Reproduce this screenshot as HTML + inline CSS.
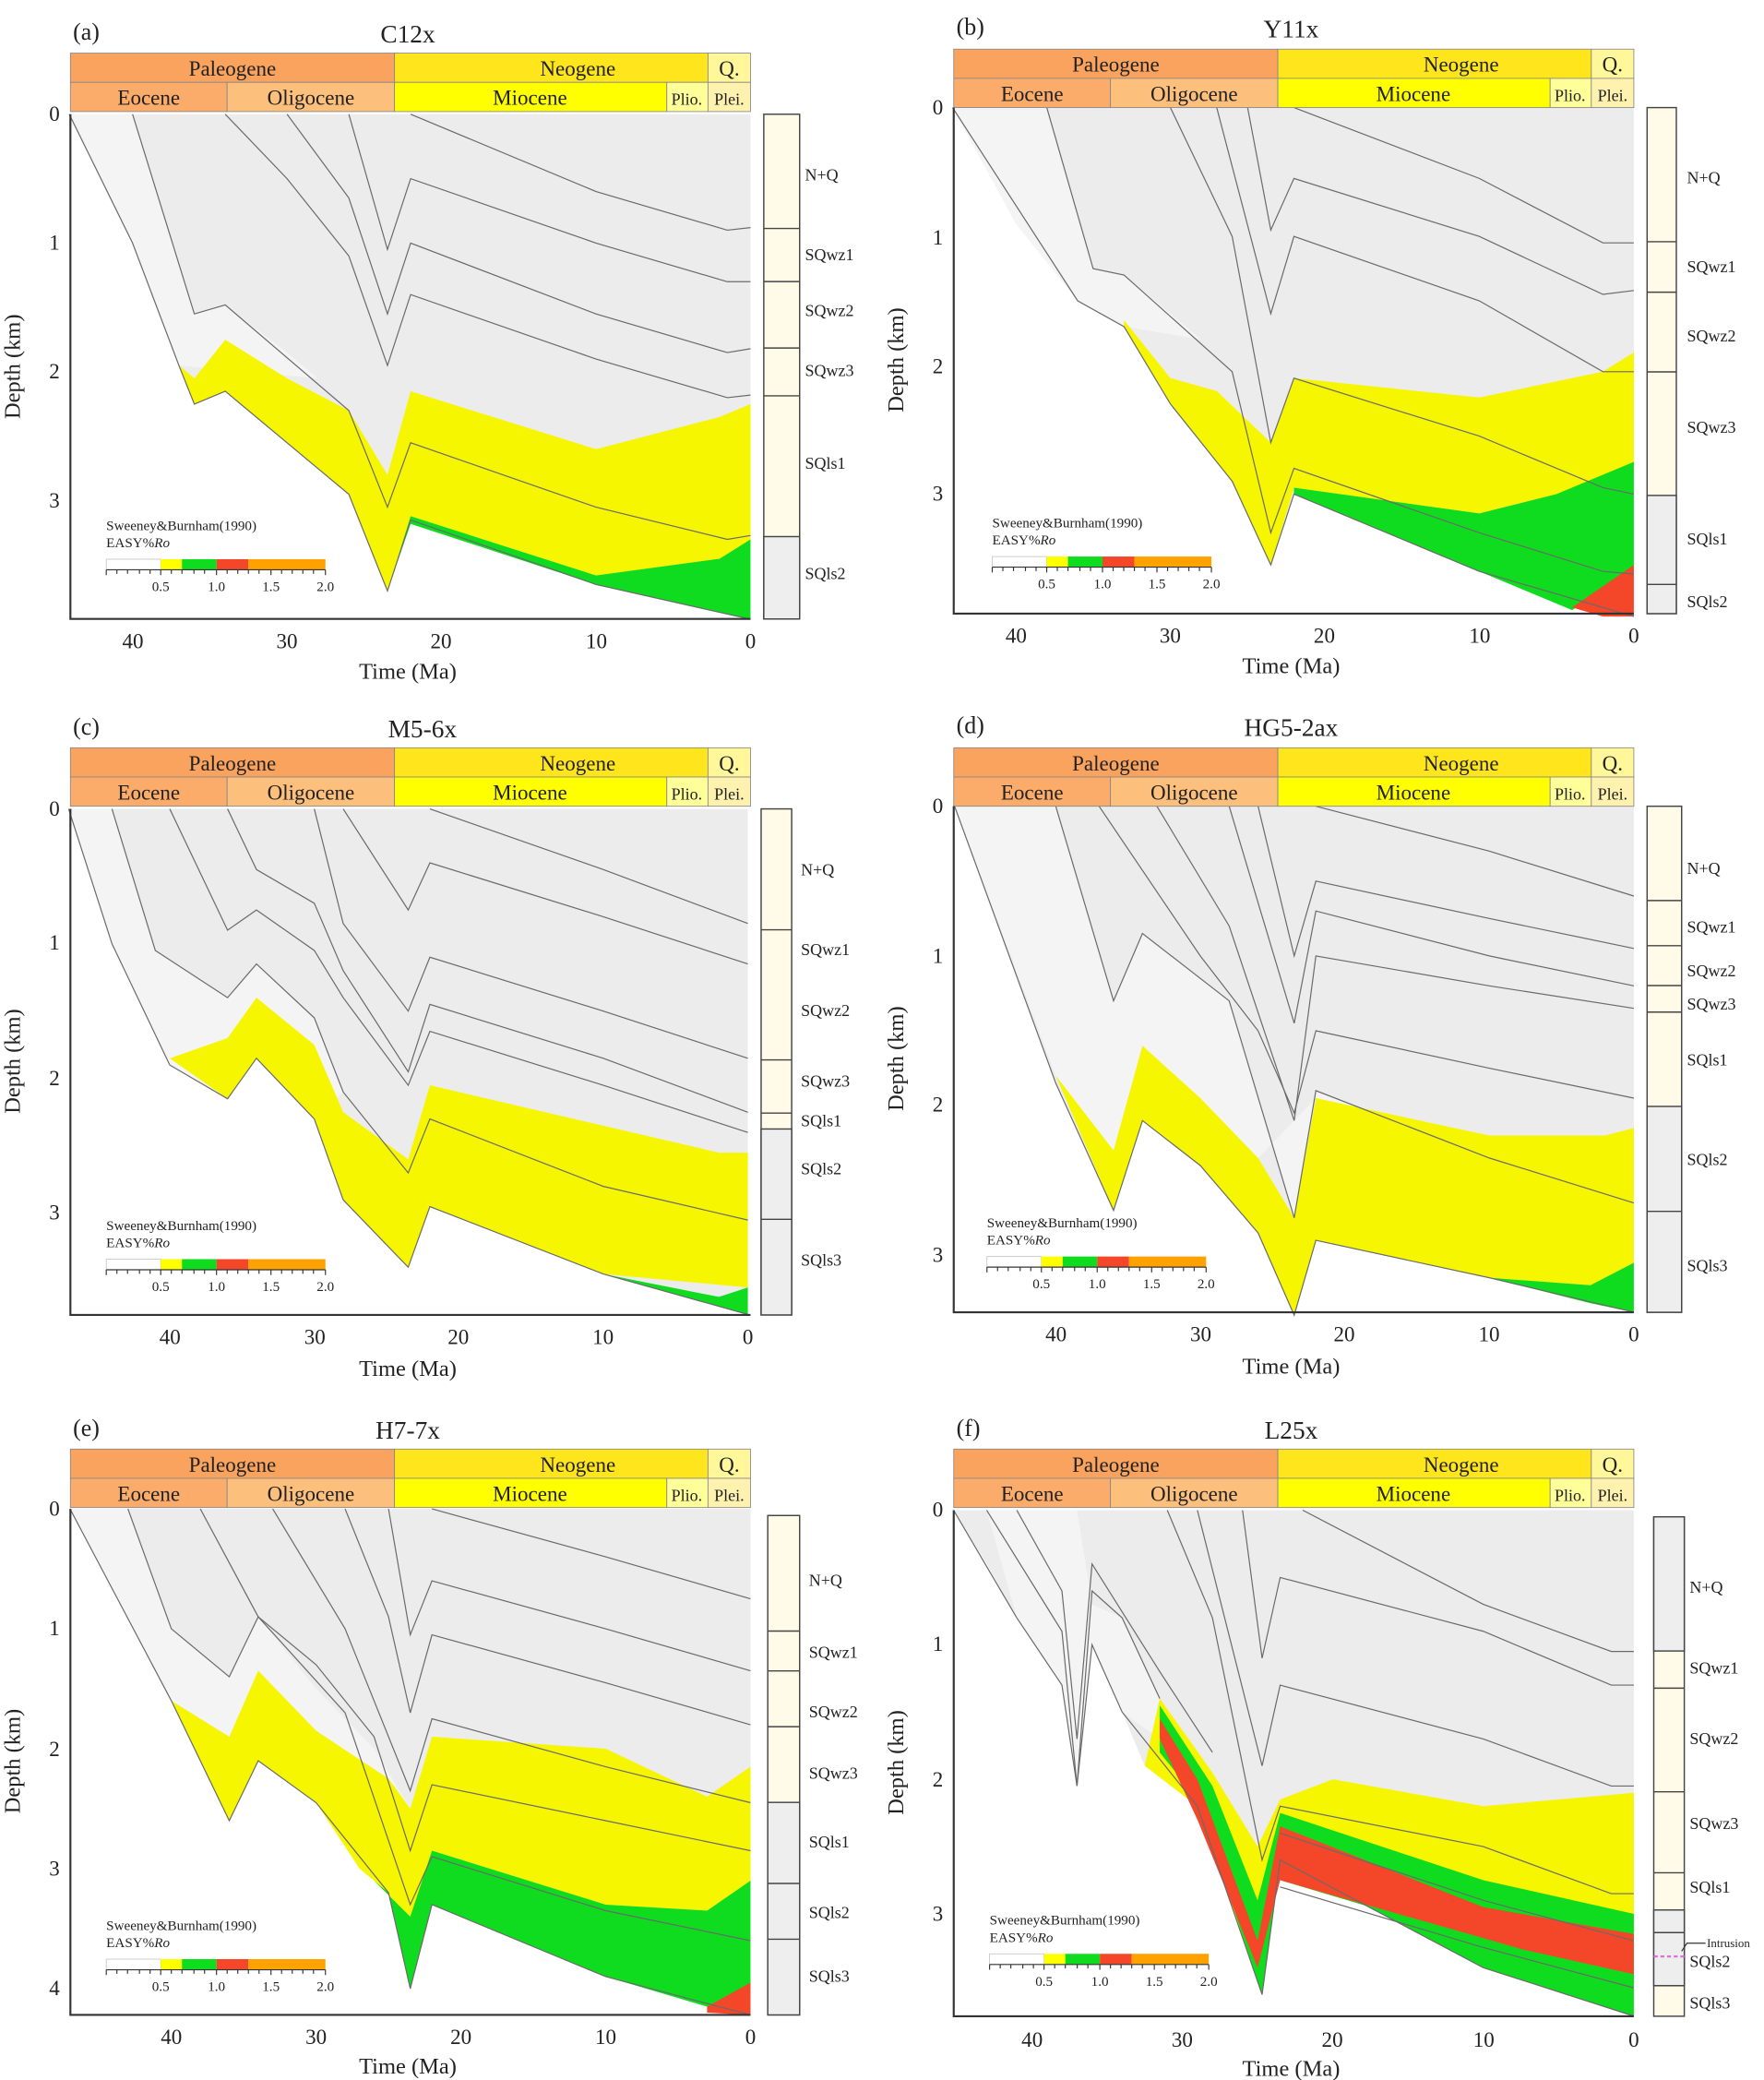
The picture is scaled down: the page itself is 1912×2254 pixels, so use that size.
<!DOCTYPE html>
<html><head><meta charset="utf-8"><style>
html,body{margin:0;padding:0;background:#fff;}
svg{display:block;}
text{font-family:"Liberation Serif",serif;fill:#222;}
.ln{fill:none;stroke:#6a6a6a;stroke-width:1.2;vector-effect:non-scaling-stroke;}
.g{fill:#ececec;}
.d{fill:#f4f4f4;}
.y{fill:#f6f600;}
.gr{fill:#0fdc1e;}
.r{fill:#f4472a;}
.hd{font-size:16px;text-anchor:middle;}
.tk{font-size:16px;text-anchor:middle;}
.cl{font-size:12.5px;}
.lg{font-size:10.5px;}
</style></head><body>
<svg width="1912" height="2254" viewBox="0 0 1328 1566" preserveAspectRatio="none" xmlns="http://www.w3.org/2000/svg">

<!-- ===== Panel (a) ===== -->
<g transform="translate(53,86)">
 <g transform="translate(512,0) scale(-11.63,97)">
  <polygon class="g" points="44.1,0 0,0 0,3.92 10,3.65 22,3.15 23.5,3.7 26,2.95 34,2.15 36,2.25 37,1.95 40,1.0"/>
  <polygon class="d" points="44.1,0 40,0 36,1.55 34,1.48 30,1.85 28,2.05 37,1.95 40,1.0"/>
  <polygon class="y" points="37,1.95 36,2.05 34,1.75 30,2.05 26,2.3 23.5,2.8 22,2.15 10,2.6 2,2.35 0,2.25 0,3.3 2,3.45 10,3.58 22,3.12 23.5,3.7 26,2.95 34,2.15 36,2.25"/>
  <polygon class="gr" points="22,3.12 10,3.58 2,3.45 0,3.3 0,3.92 10,3.65 22,3.18 23.5,3.7"/>
  <polyline class="ln" points="44.1,0 40,1.0 37,1.95 36,2.25 34,2.15 26,2.95 23.5,3.7 22,3.15 10,3.65 0,3.92"/>
  <polyline class="ln" points="40,0 36,1.55 34,1.48 26,2.3 23.5,3.05 22,2.55 10,3.05 1.5,3.3 0,3.27"/>
  <polyline class="ln" points="34,0 30,0.5 26,1.1 23.5,1.95 22,1.4 10,1.9 1.5,2.2 0,2.18"/>
  <polyline class="ln" points="30,0 26,0.65 23.5,1.55 22,1.0 10,1.55 1.5,1.85 0,1.82"/>
  <polyline class="ln" points="26,0 23.5,1.05 22,0.5 10,1.0 1.5,1.3 0,1.3"/>
  <polyline class="ln" points="22,0 10,0.6 1.5,0.9 0,0.88"/>
 </g>
 <rect x="0" y="-46" width="244" height="22" fill="#f9a35e" stroke="#888" stroke-width="0.6"/>
 <rect x="244" y="-46" width="236" height="22" fill="#ffe51c" stroke="#888" stroke-width="0.6"/>
 <rect x="480" y="-46" width="32" height="22" fill="#fff79a" stroke="#888" stroke-width="0.6"/>
 <rect x="0" y="-24" width="118" height="22" fill="#fbac6a" stroke="#888" stroke-width="0.6"/>
 <rect x="118" y="-24" width="126" height="22" fill="#fdbf7c" stroke="#888" stroke-width="0.6"/>
 <rect x="244" y="-24" width="205" height="22" fill="#ffff00" stroke="#888" stroke-width="0.6"/>
 <rect x="449" y="-24" width="31" height="22" fill="#ffff99" stroke="#888" stroke-width="0.6"/>
 <rect x="480" y="-24" width="32" height="22" fill="#fff2ae" stroke="#888" stroke-width="0.6"/>
 <text class="hd" x="122" y="-29">Paleogene</text><text class="hd" x="382" y="-29">Neogene</text><text class="hd" x="496" y="-29">Q.</text>
 <text class="hd" x="59" y="-7">Eocene</text><text class="hd" x="181" y="-7">Oligocene</text><text class="hd" x="346" y="-7">Miocene</text>
 <text x="464" y="-7" style="font-size:12.5px;text-anchor:middle">Plio.</text><text x="496" y="-7" style="font-size:12.5px;text-anchor:middle">Plei.</text>
 <path d="M0,0 V380 H512" fill="none" stroke="#333" stroke-width="1.5"/>
 <text class="tk" x="-12" y="5">0</text><text class="tk" x="-12" y="102">1</text><text class="tk" x="-12" y="199">2</text><text class="tk" x="-12" y="296">3</text>
 <text class="tk" x="47" y="402">40</text><text class="tk" x="163" y="402">30</text><text class="tk" x="279" y="402">20</text><text class="tk" x="396" y="402">10</text><text class="tk" x="512" y="402">0</text>
 <text x="254" y="425" style="font-size:17px;text-anchor:middle">Time (Ma)</text>
 <text x="-38" y="190" transform="rotate(-90 -38 190)" style="font-size:17px;text-anchor:middle">Depth (km)</text>
 <text x="2" y="-56" style="font-size:18px">(a)</text><text x="254" y="-54" style="font-size:19px;text-anchor:middle">C12x</text>
 <rect x="522" y="0" width="27" height="380" fill="#fffbe8" stroke="#444" stroke-width="1"/>
 <rect x="522" y="318" width="27" height="62" fill="#eeeeee" stroke="#444" stroke-width="1"/>
 <path d="M522,86 h27 M522,126 h27 M522,176 h27 M522,212 h27" stroke="#444" stroke-width="1"/>
 <text class="cl" x="553" y="50">N+Q</text><text class="cl" x="553" y="110">SQwz1</text><text class="cl" x="553" y="152">SQwz2</text><text class="cl" x="553" y="197">SQwz3</text><text class="cl" x="553" y="267">SQls1</text><text class="cl" x="553" y="350">SQls2</text>
</g>

<!-- ===== Panel (b) ===== -->
<g transform="translate(718,81)">
 <g transform="translate(512,0) scale(-11.63,97)">
  <polygon class="g" points="44.1,0 0,0 0,3.95 3,3.85 10,3.6 22,3.0 23.5,3.55 26,2.9 30,2.3 33,1.7 36,1.5 40,0.9"/>
  <polygon class="d" points="44.1,0 38,0 35,1.25 33,1.3 28,1.8 33,1.7 36,1.5 40,0.9"/>
  <polygon class="y" points="33,1.65 30,2.1 27,2.2 23.5,2.6 22,2.1 10,2.25 2,2.05 0,1.9 0,2.8 5,3.0 10,3.15 22,2.95 23.5,3.55 26,2.9 30,2.3 33,1.7"/>
  <polygon class="gr" points="22,2.95 10,3.15 5,3.0 0,2.75 0,3.6 4,3.9 10,3.6 22,3.0"/>
  <polygon class="r" points="0,3.55 4,3.88 2,3.95 0,3.95"/>
  <polyline class="ln" points="44.1,0 36,1.5 33,1.7 30,2.3 26,2.9 23.5,3.55 22,3.0 10,3.6 0,3.95"/>
  <polyline class="ln" points="38,0 35,1.25 33,1.3 26,2.05 23.5,3.3 22,2.8 10,3.3 2,3.6 0,3.62"/>
  <polyline class="ln" points="30,0 26,1.0 23.5,2.6 22,2.1 10,2.55 2,2.95 0,3.0"/>
  <polyline class="ln" points="27,0 23.5,1.6 22,1.0 10,1.5 2,2.05 0,2.05"/>
  <polyline class="ln" points="25,0 23.5,0.95 22,0.55 10,1.0 2,1.45 0,1.42"/>
  <polyline class="ln" points="22,0 10,0.55 2,1.05 0,1.05"/>
 </g>
 <rect x="0" y="-44" width="244" height="22" fill="#f9a35e" stroke="#888" stroke-width="0.6"/>
 <rect x="244" y="-44" width="236" height="22" fill="#ffe51c" stroke="#888" stroke-width="0.6"/>
 <rect x="480" y="-44" width="32" height="22" fill="#fff79a" stroke="#888" stroke-width="0.6"/>
 <rect x="0" y="-22" width="118" height="22" fill="#fbac6a" stroke="#888" stroke-width="0.6"/>
 <rect x="118" y="-22" width="126" height="22" fill="#fdbf7c" stroke="#888" stroke-width="0.6"/>
 <rect x="244" y="-22" width="205" height="22" fill="#ffff00" stroke="#888" stroke-width="0.6"/>
 <rect x="449" y="-22" width="31" height="22" fill="#ffff99" stroke="#888" stroke-width="0.6"/>
 <rect x="480" y="-22" width="32" height="22" fill="#fff2ae" stroke="#888" stroke-width="0.6"/>
 <text class="hd" x="122" y="-27">Paleogene</text><text class="hd" x="382" y="-27">Neogene</text><text class="hd" x="496" y="-27">Q.</text>
 <text class="hd" x="59" y="-5">Eocene</text><text class="hd" x="181" y="-5">Oligocene</text><text class="hd" x="346" y="-5">Miocene</text>
 <text x="464" y="-5" style="font-size:12.5px;text-anchor:middle">Plio.</text><text x="496" y="-5" style="font-size:12.5px;text-anchor:middle">Plei.</text>
 <path d="M0,0 V381 H512" fill="none" stroke="#333" stroke-width="1.5"/>
 <text class="tk" x="-12" y="5">0</text><text class="tk" x="-12" y="103">1</text><text class="tk" x="-12" y="200">2</text><text class="tk" x="-12" y="296">3</text>
 <text class="tk" x="47" y="403">40</text><text class="tk" x="163" y="403">30</text><text class="tk" x="279" y="403">20</text><text class="tk" x="396" y="403">10</text><text class="tk" x="512" y="403">0</text>
 <text x="254" y="426" style="font-size:17px;text-anchor:middle">Time (Ma)</text>
 <text x="-38" y="190" transform="rotate(-90 -38 190)" style="font-size:17px;text-anchor:middle">Depth (km)</text>
 <text x="2" y="-55" style="font-size:18px">(b)</text><text x="254" y="-53" style="font-size:19px;text-anchor:middle">Y11x</text>
 <rect x="522" y="0" width="22" height="381" fill="#fffbe8" stroke="#444" stroke-width="1"/>
 <rect x="522" y="292" width="22" height="89" fill="#eeeeee" stroke="#444" stroke-width="1"/>
 <path d="M522,101 h22 M522,139 h22 M522,199 h22 M522,359 h22" stroke="#444" stroke-width="1"/>
 <text class="cl" x="552" y="57">N+Q</text><text class="cl" x="552" y="124">SQwz1</text><text class="cl" x="552" y="176">SQwz2</text><text class="cl" x="552" y="245">SQwz3</text><text class="cl" x="552" y="329">SQls1</text><text class="cl" x="552" y="376">SQls2</text>
</g>

<!-- ===== Panel (c) ===== -->
<g transform="translate(53,609)">
 <g transform="translate(510,0) scale(-10.88,101.5)">
  <polygon class="g" points="47,0 0,0 0,3.75 10,3.45 22,2.95 23.5,3.4 28,2.9 30,2.3 34,1.85 36,2.15 40,1.9 44,1.0"/>
  <polygon class="d" points="47,0 44,0 41,1.05 36,1.4 34,1.15 30,1.55 28,2.1 30,2.3 34,1.85 36,2.15 40,1.9 44,1.0"/>
  <polygon class="y" points="40,1.85 36,1.7 34,1.4 30,1.75 28,2.25 23.5,2.6 22,2.05 10,2.35 2,2.55 0,2.55 0,3.55 10,3.45 22,2.95 23.5,3.4 28,2.9 30,2.3 34,1.85 36,2.15"/>
  <polygon class="gr" points="10,3.45 2,3.62 0,3.55 0,3.75"/>
  <polyline class="ln" points="47,0 44,1.0 40,1.9 36,2.15 34,1.85 30,2.3 28,2.9 23.5,3.4 22,2.95 10,3.45 0,3.75"/>
  <polyline class="ln" points="44,0 41,1.05 36,1.4 34,1.15 30,1.55 28,2.1 23.5,2.7 22,2.3 10,2.8 0,3.05"/>
  <polyline class="ln" points="40,0 36,0.9 34,0.75 30,1.05 28,1.4 23.5,2.05 22,1.65 10,2.05 0,2.4"/>
  <polyline class="ln" points="36,0 34,0.45 30,0.7 28,1.2 23.5,1.95 22,1.45 10,1.85 0,2.25"/>
  <polyline class="ln" points="30,0 28,0.85 23.5,1.5 22,1.1 10,1.5 0,1.85"/>
  <polyline class="ln" points="28,0 23.5,0.75 22,0.4 10,0.8 0,1.15"/>
  <polyline class="ln" points="22,0 10,0.45 0,0.85"/>
 </g>
 <rect x="0" y="-46" width="244" height="22" fill="#f9a35e" stroke="#888" stroke-width="0.6"/>
 <rect x="244" y="-46" width="236" height="22" fill="#ffe51c" stroke="#888" stroke-width="0.6"/>
 <rect x="480" y="-46" width="32" height="22" fill="#fff79a" stroke="#888" stroke-width="0.6"/>
 <rect x="0" y="-24" width="118" height="22" fill="#fbac6a" stroke="#888" stroke-width="0.6"/>
 <rect x="118" y="-24" width="126" height="22" fill="#fdbf7c" stroke="#888" stroke-width="0.6"/>
 <rect x="244" y="-24" width="205" height="22" fill="#ffff00" stroke="#888" stroke-width="0.6"/>
 <rect x="449" y="-24" width="31" height="22" fill="#ffff99" stroke="#888" stroke-width="0.6"/>
 <rect x="480" y="-24" width="32" height="22" fill="#fff2ae" stroke="#888" stroke-width="0.6"/>
 <text class="hd" x="122" y="-29">Paleogene</text><text class="hd" x="382" y="-29">Neogene</text><text class="hd" x="496" y="-29">Q.</text>
 <text class="hd" x="59" y="-7">Eocene</text><text class="hd" x="181" y="-7">Oligocene</text><text class="hd" x="346" y="-7">Miocene</text>
 <text x="464" y="-7" style="font-size:12.5px;text-anchor:middle">Plio.</text><text x="496" y="-7" style="font-size:12.5px;text-anchor:middle">Plei.</text>
 <path d="M0,0 V381 H512" fill="none" stroke="#333" stroke-width="1.5"/>
 <text class="tk" x="-12" y="5">0</text><text class="tk" x="-12" y="106">1</text><text class="tk" x="-12" y="208">2</text><text class="tk" x="-12" y="309">3</text>
 <text class="tk" x="75" y="403">40</text><text class="tk" x="184" y="403">30</text><text class="tk" x="292" y="403">20</text><text class="tk" x="401" y="403">10</text><text class="tk" x="510" y="403">0</text>
 <text x="254" y="427" style="font-size:17px;text-anchor:middle">Time (Ma)</text>
 <text x="-38" y="190" transform="rotate(-90 -38 190)" style="font-size:17px;text-anchor:middle">Depth (km)</text>
 <text x="2" y="-56" style="font-size:18px">(c)</text><text x="265" y="-54" style="font-size:19px;text-anchor:middle">M5-6x</text>
 <rect x="520" y="0" width="23" height="381" fill="#fffbe8" stroke="#444" stroke-width="1"/>
 <rect x="520" y="241" width="23" height="140" fill="#eeeeee" stroke="#444" stroke-width="1"/>
 <path d="M520,91 h23 M520,189 h23 M520,229 h23 M520,309 h23" stroke="#444" stroke-width="1"/>
 <text class="cl" x="550" y="50">N+Q</text><text class="cl" x="550" y="110">SQwz1</text><text class="cl" x="550" y="156">SQwz2</text><text class="cl" x="550" y="209">SQwz3</text><text class="cl" x="550" y="239">SQls1</text><text class="cl" x="550" y="275">SQls2</text><text class="cl" x="550" y="344">SQls3</text>
</g>

<!-- ===== Panel (d) ===== -->
<g transform="translate(718,607)">
 <g transform="translate(512,0) scale(-10.88,112.7)">
  <polygon class="g" points="47,0 0,0 0,3.38 10,3.15 22,2.9 23.5,3.4 26,2.85 30,2.4 34,2.1 36,2.7 40,1.85"/>
  <polygon class="d" points="47,0 40,0 36,1.3 34,0.85 28,1.3 23.5,2.75 22,1.9 10,2.35 0,2.65 0,2.2 10,2.2 22,1.95 26,2.35 30,1.95 34,1.6 36,2.3 40,1.8"/>
  <polygon class="y" points="40,1.8 36,2.3 34,1.6 30,1.95 26,2.35 23.5,2.75 22,1.95 10,2.2 2,2.2 0,2.15 0,3.05 3,3.2 10,3.15 22,2.9 23.5,3.4 26,2.85 30,2.4 34,2.1 36,2.7"/>
  <polygon class="gr" points="3,3.2 0,3.05 0,3.38 3,3.32 10,3.15"/>
  <polyline class="ln" points="47,0 40,1.85 36,2.7 34,2.1 30,2.4 26,2.85 23.5,3.4 22,2.9 10,3.15 0,3.38"/>
  <polyline class="ln" points="40,0 36,1.3 34,0.85 28,1.3 23.5,2.75 22,1.9 10,2.35 0,2.65"/>
  <polyline class="ln" points="37,0 30,1.0 26,1.5 23.5,2.05 22,1.5 10,1.75 0,1.95"/>
  <polyline class="ln" points="33,0 28,0.8 23.5,2.1 22,1.0 10,1.2 0,1.35"/>
  <polyline class="ln" points="28,0 23.5,1.45 22,0.7 10,1.0 0,1.2"/>
  <polyline class="ln" points="26,0 23.5,1.0 22,0.5 10,0.75 0,0.95"/>
  <polyline class="ln" points="22,0 10,0.3 0,0.6"/>
 </g>
 <rect x="0" y="-44" width="244" height="22" fill="#f9a35e" stroke="#888" stroke-width="0.6"/>
 <rect x="244" y="-44" width="236" height="22" fill="#ffe51c" stroke="#888" stroke-width="0.6"/>
 <rect x="480" y="-44" width="32" height="22" fill="#fff79a" stroke="#888" stroke-width="0.6"/>
 <rect x="0" y="-22" width="118" height="22" fill="#fbac6a" stroke="#888" stroke-width="0.6"/>
 <rect x="118" y="-22" width="126" height="22" fill="#fdbf7c" stroke="#888" stroke-width="0.6"/>
 <rect x="244" y="-22" width="205" height="22" fill="#ffff00" stroke="#888" stroke-width="0.6"/>
 <rect x="449" y="-22" width="31" height="22" fill="#ffff99" stroke="#888" stroke-width="0.6"/>
 <rect x="480" y="-22" width="32" height="22" fill="#fff2ae" stroke="#888" stroke-width="0.6"/>
 <text class="hd" x="122" y="-27">Paleogene</text><text class="hd" x="382" y="-27">Neogene</text><text class="hd" x="496" y="-27">Q.</text>
 <text class="hd" x="59" y="-5">Eocene</text><text class="hd" x="181" y="-5">Oligocene</text><text class="hd" x="346" y="-5">Miocene</text>
 <text x="464" y="-5" style="font-size:12.5px;text-anchor:middle">Plio.</text><text x="496" y="-5" style="font-size:12.5px;text-anchor:middle">Plei.</text>
 <path d="M0,0 V381 H512" fill="none" stroke="#333" stroke-width="1.5"/>
 <text class="tk" x="-12" y="5">0</text><text class="tk" x="-12" y="118">1</text><text class="tk" x="-12" y="230">2</text><text class="tk" x="-12" y="343">3</text>
 <text class="tk" x="77" y="403">40</text><text class="tk" x="186" y="403">30</text><text class="tk" x="294" y="403">20</text><text class="tk" x="403" y="403">10</text><text class="tk" x="512" y="403">0</text>
 <text x="254" y="427" style="font-size:17px;text-anchor:middle">Time (Ma)</text>
 <text x="-38" y="190" transform="rotate(-90 -38 190)" style="font-size:17px;text-anchor:middle">Depth (km)</text>
 <text x="2" y="-55" style="font-size:18px">(d)</text><text x="254" y="-53" style="font-size:19px;text-anchor:middle">HG5-2ax</text>
 <rect x="522" y="0" width="26" height="381" fill="#fffbe8" stroke="#444" stroke-width="1"/>
 <rect x="522" y="226" width="26" height="155" fill="#eeeeee" stroke="#444" stroke-width="1"/>
 <path d="M522,71 h26 M522,105 h26 M522,135 h26 M522,155 h26 M522,305 h26" stroke="#444" stroke-width="1"/>
 <text class="cl" x="552" y="51">N+Q</text><text class="cl" x="552" y="95">SQwz1</text><text class="cl" x="552" y="128">SQwz2</text><text class="cl" x="552" y="153">SQwz3</text><text class="cl" x="552" y="195">SQls1</text><text class="cl" x="552" y="270">SQls2</text><text class="cl" x="552" y="350">SQls3</text>
</g>

<!-- ===== Panel (e) ===== -->
<g transform="translate(53,1136)">
 <g transform="translate(512,0) scale(-10.9,90.3)">
  <polygon class="g" points="47,0 0,0 0,4.22 10,3.9 22,3.3 23.5,4.0 25,3.2 30,2.45 34,2.1 36,2.6 40,1.6"/>
  <polygon class="d" points="47,0 43,0 40,1.0 36,1.4 34,0.9 30,1.5 26,2.0 23.5,2.5 25,2.25 30,1.85 34,1.35 36,1.9 40,1.6"/>
  <polygon class="y" points="40,1.6 36,1.9 34,1.35 30,1.85 25,2.25 23.5,2.5 22,1.9 10,2.0 3,2.4 0,2.15 0,3.1 3,3.35 10,3.3 22,2.85 23.5,3.4 26,3.1 27,3.0 30,2.45 34,2.1 36,2.6"/>
  <polygon class="gr" points="27,3.0 26,3.1 23.5,3.4 22,2.85 10,3.3 3,3.35 0,3.1 0,4.0 3,4.15 10,3.9 22,3.3 23.5,4.0 25,3.2"/>
  <polygon class="r" points="3,4.15 0,3.95 0,4.22 3,4.2"/>
  <polyline class="ln" points="47,0 40,1.6 36,2.6 34,2.1 30,2.45 25,3.2 23.5,4.0 22,3.3 10,3.9 0,4.22"/>
  <polyline class="ln" points="43,0 40,1.0 36,1.4 34,0.9 28,1.7 23.5,3.3 22,2.9 10,3.35 0,3.6"/>
  <polyline class="ln" points="38,0 34,0.9 30,1.3 26,1.9 23.5,2.85 22,2.3 10,2.6 0,2.85"/>
  <polyline class="ln" points="33,0 28,1.0 23.5,2.35 22,1.75 10,2.15 0,2.45"/>
  <polyline class="ln" points="28,0 25,0.9 23.5,1.7 22,1.05 10,1.45 0,1.8"/>
  <polyline class="ln" points="25,0 23.5,1.05 22,0.6 10,1.0 0,1.35"/>
  <polyline class="ln" points="22,0 10,0.4 0,0.75"/>
 </g>
 <rect x="0" y="-45" width="244" height="22" fill="#f9a35e" stroke="#888" stroke-width="0.6"/>
 <rect x="244" y="-45" width="236" height="22" fill="#ffe51c" stroke="#888" stroke-width="0.6"/>
 <rect x="480" y="-45" width="32" height="22" fill="#fff79a" stroke="#888" stroke-width="0.6"/>
 <rect x="0" y="-23" width="118" height="22" fill="#fbac6a" stroke="#888" stroke-width="0.6"/>
 <rect x="118" y="-23" width="126" height="22" fill="#fdbf7c" stroke="#888" stroke-width="0.6"/>
 <rect x="244" y="-23" width="205" height="22" fill="#ffff00" stroke="#888" stroke-width="0.6"/>
 <rect x="449" y="-23" width="31" height="22" fill="#ffff99" stroke="#888" stroke-width="0.6"/>
 <rect x="480" y="-23" width="32" height="22" fill="#fff2ae" stroke="#888" stroke-width="0.6"/>
 <text class="hd" x="122" y="-28">Paleogene</text><text class="hd" x="382" y="-28">Neogene</text><text class="hd" x="496" y="-28">Q.</text>
 <text class="hd" x="59" y="-6">Eocene</text><text class="hd" x="181" y="-6">Oligocene</text><text class="hd" x="346" y="-6">Miocene</text>
 <text x="464" y="-6" style="font-size:12.5px;text-anchor:middle">Plio.</text><text x="496" y="-6" style="font-size:12.5px;text-anchor:middle">Plei.</text>
 <path d="M0,0 V381 H512" fill="none" stroke="#333" stroke-width="1.5"/>
 <text class="tk" x="-12" y="5">0</text><text class="tk" x="-12" y="95">1</text><text class="tk" x="-12" y="186">2</text><text class="tk" x="-12" y="276">3</text><text class="tk" x="-12" y="366">4</text>
 <text class="tk" x="76" y="403">40</text><text class="tk" x="185" y="403">30</text><text class="tk" x="294" y="403">20</text><text class="tk" x="403" y="403">10</text><text class="tk" x="512" y="403">0</text>
 <text x="254" y="425" style="font-size:17px;text-anchor:middle">Time (Ma)</text>
 <text x="-38" y="190" transform="rotate(-90 -38 190)" style="font-size:17px;text-anchor:middle">Depth (km)</text>
 <text x="2" y="-55" style="font-size:18px">(e)</text><text x="254" y="-53" style="font-size:19px;text-anchor:middle">H7-7x</text>
 <rect x="525" y="5" width="24" height="376" fill="#fffbe8" stroke="#444" stroke-width="1"/>
 <rect x="525" y="221" width="24" height="160" fill="#eeeeee" stroke="#444" stroke-width="1"/>
 <path d="M525,92 h24 M525,122 h24 M525,164 h24 M525,282 h24 M525,324 h24" stroke="#444" stroke-width="1"/>
 <text class="cl" x="556" y="58">N+Q</text><text class="cl" x="556" y="112">SQwz1</text><text class="cl" x="556" y="157">SQwz2</text><text class="cl" x="556" y="203">SQwz3</text><text class="cl" x="556" y="255">SQls1</text><text class="cl" x="556" y="308">SQls2</text><text class="cl" x="556" y="356">SQls3</text>
</g>

<!-- ===== Panel (f) ===== -->
<g transform="translate(718,1137)">
 <g transform="translate(512,0) scale(-11.33,101.3)">
  <polygon class="g" points="45.2,0 0,0 0,3.76 10,3.4 23.5,2.6 24.7,3.6 29,2.2 32.5,1.9 34,1.5 36,1.0 37,2.05 38,1.3 41,0.8 43,0.4"/>
  <polygon class="d" points="43,0 37,0 36,0.7 34,0.8 31.5,1.4 29,1.9 34,1.5 36,1.0 37,2.05 38,1.3 41,0.8"/>
  <polygon class="y" points="31.5,1.4 28,1.95 25,2.5 23.5,2.15 20,2.0 10,2.2 0,2.1 0,3.76 10,3.4 23.5,2.6 24.7,3.6 29,2.2 32.5,1.9"/>
  <polygon class="gr" points="31.5,1.45 28,2.05 25,2.9 23.5,2.25 10,2.75 0,3.0 0,3.76 10,3.4 23.5,2.6 24.7,3.6 29,2.15 31.5,1.8"/>
  <polygon class="r" points="31.5,1.55 29,2.0 25,3.2 23.5,2.35 10,2.95 0,3.15 0,3.45 10,3.2 23.5,2.75 25,3.4 29,2.3 31.5,1.7"/>
  <polygon class="gr" points="0,3.45 10,3.2 23.5,2.75 0,3.5"/>
  <polyline class="ln" points="45.2,0 41,0.8 38,1.3 37,2.05 36,1.0 34,1.5 29,2.2 24.7,3.6 23.5,2.6 10,3.4 0,3.76"/>
  <polyline class="ln" points="43,0 38,0.9 37,2.05 36,0.6 34,0.8 31.5,1.4"/>
  <polyline class="ln" points="41,0 38,0.6 37,1.7 36,0.4 31.5,1.2 28,1.8"/>
  <polyline class="ln" points="31,0 28,0.8 24.7,2.6 23.5,2.2 10,2.5 1.5,2.85 0,2.85"/>
  <polyline class="ln" points="29,0 24.7,1.9 23.5,1.3 10,1.7 1.5,2.05 0,2.05"/>
  <polyline class="ln" points="26,0 24.7,1.1 23.5,0.5 10,0.9 1.5,1.3 0,1.3"/>
  <polyline class="ln" points="22,0 10,0.7 1.5,1.05 0,1.05"/>
  <polyline class="ln" points="23.5,2.4 10,2.9 0,3.2"/>
  <polyline class="ln" points="23.5,2.8 10,3.25 0,3.55"/>
 </g>
 <rect x="0" y="-46" width="244" height="22" fill="#f9a35e" stroke="#888" stroke-width="0.6"/>
 <rect x="244" y="-46" width="236" height="22" fill="#ffe51c" stroke="#888" stroke-width="0.6"/>
 <rect x="480" y="-46" width="32" height="22" fill="#fff79a" stroke="#888" stroke-width="0.6"/>
 <rect x="0" y="-24" width="118" height="22" fill="#fbac6a" stroke="#888" stroke-width="0.6"/>
 <rect x="118" y="-24" width="126" height="22" fill="#fdbf7c" stroke="#888" stroke-width="0.6"/>
 <rect x="244" y="-24" width="205" height="22" fill="#ffff00" stroke="#888" stroke-width="0.6"/>
 <rect x="449" y="-24" width="31" height="22" fill="#ffff99" stroke="#888" stroke-width="0.6"/>
 <rect x="480" y="-24" width="32" height="22" fill="#fff2ae" stroke="#888" stroke-width="0.6"/>
 <text class="hd" x="122" y="-29">Paleogene</text><text class="hd" x="382" y="-29">Neogene</text><text class="hd" x="496" y="-29">Q.</text>
 <text class="hd" x="59" y="-7">Eocene</text><text class="hd" x="181" y="-7">Oligocene</text><text class="hd" x="346" y="-7">Miocene</text>
 <text x="464" y="-7" style="font-size:12.5px;text-anchor:middle">Plio.</text><text x="496" y="-7" style="font-size:12.5px;text-anchor:middle">Plei.</text>
 <path d="M0,0 V381 H512" fill="none" stroke="#333" stroke-width="1.5"/>
 <text class="tk" x="-12" y="5">0</text><text class="tk" x="-12" y="106">1</text><text class="tk" x="-12" y="208">2</text><text class="tk" x="-12" y="309">3</text>
 <text class="tk" x="59" y="404">40</text><text class="tk" x="172" y="404">30</text><text class="tk" x="285" y="404">20</text><text class="tk" x="399" y="404">10</text><text class="tk" x="512" y="404">0</text>
 <text x="254" y="426" style="font-size:17px;text-anchor:middle">Time (Ma)</text>
 <text x="-38" y="190" transform="rotate(-90 -38 190)" style="font-size:17px;text-anchor:middle">Depth (km)</text>
 <text x="2" y="-56" style="font-size:18px">(f)</text><text x="254" y="-54" style="font-size:19px;text-anchor:middle">L25x</text>
 <rect x="527" y="5" width="23" height="376" fill="#fffbe8" stroke="#444" stroke-width="1"/>
 <rect x="527" y="5" width="23" height="101" fill="#eeeeee" stroke="#444" stroke-width="1"/>
 <rect x="527" y="301" width="23" height="57" fill="#eeeeee" stroke="#444" stroke-width="1"/>
 <path d="M527,134 h23 M527,212 h23 M527,273 h23 M527,318 h23 M527,358 h23" stroke="#444" stroke-width="1"/>
 <path d="M527,336 h23" stroke="#e070e0" stroke-width="1.5" stroke-dasharray="3,2"/>
 <path d="M548,332 l4,-6 h14" fill="none" stroke="#333" stroke-width="0.8"/>
 <text x="567" y="329" style="font-size:9px">Intrusion</text>
 <text class="cl" x="554" y="62">N+Q</text><text class="cl" x="554" y="123">SQwz1</text><text class="cl" x="554" y="176">SQwz2</text><text class="cl" x="554" y="240">SQwz3</text><text class="cl" x="554" y="288">SQls1</text><text class="cl" x="554" y="344">SQls2</text><text class="cl" x="554" y="375">SQls3</text>
</g>

<!-- ===== Legends ===== -->
<g transform="translate(80,392)">
 <text class="lg" x="0" y="7">Sweeney&amp;Burnham(1990)</text><text class="lg" x="0" y="20">EASY%<tspan font-style="italic">Ro</tspan></text>
 <rect x="0" y="29" width="41" height="8" fill="#fff" stroke="#bbb" stroke-width="0.5"/><rect x="41" y="29" width="16" height="8" fill="#ffff00"/><rect x="57" y="29" width="26" height="8" fill="#0fdc1e"/><rect x="83" y="29" width="24" height="8" fill="#f4472a"/><rect x="107" y="29" width="58" height="8" fill="#ffa200"/>
 <path d="M0,37 h165 M0,37v4M8,37v3M16,37v3M25,37v3M33,37v3M41,37v4M49,37v3M57,37v3M66,37v3M74,37v3M83,37v4M91,37v3M99,37v3M107,37v3M115,37v3M124,37v4M132,37v3M140,37v3M148,37v3M156,37v3M165,37v4" stroke="#333" stroke-width="0.8" fill="none"/>
 <text class="lg" x="41" y="53" text-anchor="middle">0.5</text><text class="lg" x="83" y="53" text-anchor="middle">1.0</text><text class="lg" x="124" y="53" text-anchor="middle">1.5</text><text class="lg" x="165" y="53" text-anchor="middle">2.0</text>
</g>
<g transform="translate(747,390)">
 <text class="lg" x="0" y="7">Sweeney&amp;Burnham(1990)</text><text class="lg" x="0" y="20">EASY%<tspan font-style="italic">Ro</tspan></text>
 <rect x="0" y="29" width="41" height="8" fill="#fff" stroke="#bbb" stroke-width="0.5"/><rect x="41" y="29" width="16" height="8" fill="#ffff00"/><rect x="57" y="29" width="26" height="8" fill="#0fdc1e"/><rect x="83" y="29" width="24" height="8" fill="#f4472a"/><rect x="107" y="29" width="58" height="8" fill="#ffa200"/>
 <path d="M0,37 h165 M0,37v4M8,37v3M16,37v3M25,37v3M33,37v3M41,37v4M49,37v3M57,37v3M66,37v3M74,37v3M83,37v4M91,37v3M99,37v3M107,37v3M115,37v3M124,37v4M132,37v3M140,37v3M148,37v3M156,37v3M165,37v4" stroke="#333" stroke-width="0.8" fill="none"/>
 <text class="lg" x="41" y="53" text-anchor="middle">0.5</text><text class="lg" x="83" y="53" text-anchor="middle">1.0</text><text class="lg" x="124" y="53" text-anchor="middle">1.5</text><text class="lg" x="165" y="53" text-anchor="middle">2.0</text>
</g>
<g transform="translate(80,919)">
 <text class="lg" x="0" y="7">Sweeney&amp;Burnham(1990)</text><text class="lg" x="0" y="20">EASY%<tspan font-style="italic">Ro</tspan></text>
 <rect x="0" y="29" width="41" height="8" fill="#fff" stroke="#bbb" stroke-width="0.5"/><rect x="41" y="29" width="16" height="8" fill="#ffff00"/><rect x="57" y="29" width="26" height="8" fill="#0fdc1e"/><rect x="83" y="29" width="24" height="8" fill="#f4472a"/><rect x="107" y="29" width="58" height="8" fill="#ffa200"/>
 <path d="M0,37 h165 M0,37v4M8,37v3M16,37v3M25,37v3M33,37v3M41,37v4M49,37v3M57,37v3M66,37v3M74,37v3M83,37v4M91,37v3M99,37v3M107,37v3M115,37v3M124,37v4M132,37v3M140,37v3M148,37v3M156,37v3M165,37v4" stroke="#333" stroke-width="0.8" fill="none"/>
 <text class="lg" x="41" y="53" text-anchor="middle">0.5</text><text class="lg" x="83" y="53" text-anchor="middle">1.0</text><text class="lg" x="124" y="53" text-anchor="middle">1.5</text><text class="lg" x="165" y="53" text-anchor="middle">2.0</text>
</g>
<g transform="translate(743,917)">
 <text class="lg" x="0" y="7">Sweeney&amp;Burnham(1990)</text><text class="lg" x="0" y="20">EASY%<tspan font-style="italic">Ro</tspan></text>
 <rect x="0" y="29" width="41" height="8" fill="#fff" stroke="#bbb" stroke-width="0.5"/><rect x="41" y="29" width="16" height="8" fill="#ffff00"/><rect x="57" y="29" width="26" height="8" fill="#0fdc1e"/><rect x="83" y="29" width="24" height="8" fill="#f4472a"/><rect x="107" y="29" width="58" height="8" fill="#ffa200"/>
 <path d="M0,37 h165 M0,37v4M8,37v3M16,37v3M25,37v3M33,37v3M41,37v4M49,37v3M57,37v3M66,37v3M74,37v3M83,37v4M91,37v3M99,37v3M107,37v3M115,37v3M124,37v4M132,37v3M140,37v3M148,37v3M156,37v3M165,37v4" stroke="#333" stroke-width="0.8" fill="none"/>
 <text class="lg" x="41" y="53" text-anchor="middle">0.5</text><text class="lg" x="83" y="53" text-anchor="middle">1.0</text><text class="lg" x="124" y="53" text-anchor="middle">1.5</text><text class="lg" x="165" y="53" text-anchor="middle">2.0</text>
</g>
<g transform="translate(80,1446)">
 <text class="lg" x="0" y="7">Sweeney&amp;Burnham(1990)</text><text class="lg" x="0" y="20">EASY%<tspan font-style="italic">Ro</tspan></text>
 <rect x="0" y="29" width="41" height="8" fill="#fff" stroke="#bbb" stroke-width="0.5"/><rect x="41" y="29" width="16" height="8" fill="#ffff00"/><rect x="57" y="29" width="26" height="8" fill="#0fdc1e"/><rect x="83" y="29" width="24" height="8" fill="#f4472a"/><rect x="107" y="29" width="58" height="8" fill="#ffa200"/>
 <path d="M0,37 h165 M0,37v4M8,37v3M16,37v3M25,37v3M33,37v3M41,37v4M49,37v3M57,37v3M66,37v3M74,37v3M83,37v4M91,37v3M99,37v3M107,37v3M115,37v3M124,37v4M132,37v3M140,37v3M148,37v3M156,37v3M165,37v4" stroke="#333" stroke-width="0.8" fill="none"/>
 <text class="lg" x="41" y="53" text-anchor="middle">0.5</text><text class="lg" x="83" y="53" text-anchor="middle">1.0</text><text class="lg" x="124" y="53" text-anchor="middle">1.5</text><text class="lg" x="165" y="53" text-anchor="middle">2.0</text>
</g>
<g transform="translate(745,1442)">
 <text class="lg" x="0" y="7">Sweeney&amp;Burnham(1990)</text><text class="lg" x="0" y="20">EASY%<tspan font-style="italic">Ro</tspan></text>
 <rect x="0" y="29" width="41" height="8" fill="#fff" stroke="#bbb" stroke-width="0.5"/><rect x="41" y="29" width="16" height="8" fill="#ffff00"/><rect x="57" y="29" width="26" height="8" fill="#0fdc1e"/><rect x="83" y="29" width="24" height="8" fill="#f4472a"/><rect x="107" y="29" width="58" height="8" fill="#ffa200"/>
 <path d="M0,37 h165 M0,37v4M8,37v3M16,37v3M25,37v3M33,37v3M41,37v4M49,37v3M57,37v3M66,37v3M74,37v3M83,37v4M91,37v3M99,37v3M107,37v3M115,37v3M124,37v4M132,37v3M140,37v3M148,37v3M156,37v3M165,37v4" stroke="#333" stroke-width="0.8" fill="none"/>
 <text class="lg" x="41" y="53" text-anchor="middle">0.5</text><text class="lg" x="83" y="53" text-anchor="middle">1.0</text><text class="lg" x="124" y="53" text-anchor="middle">1.5</text><text class="lg" x="165" y="53" text-anchor="middle">2.0</text>
</g>
</svg>
</body></html>
